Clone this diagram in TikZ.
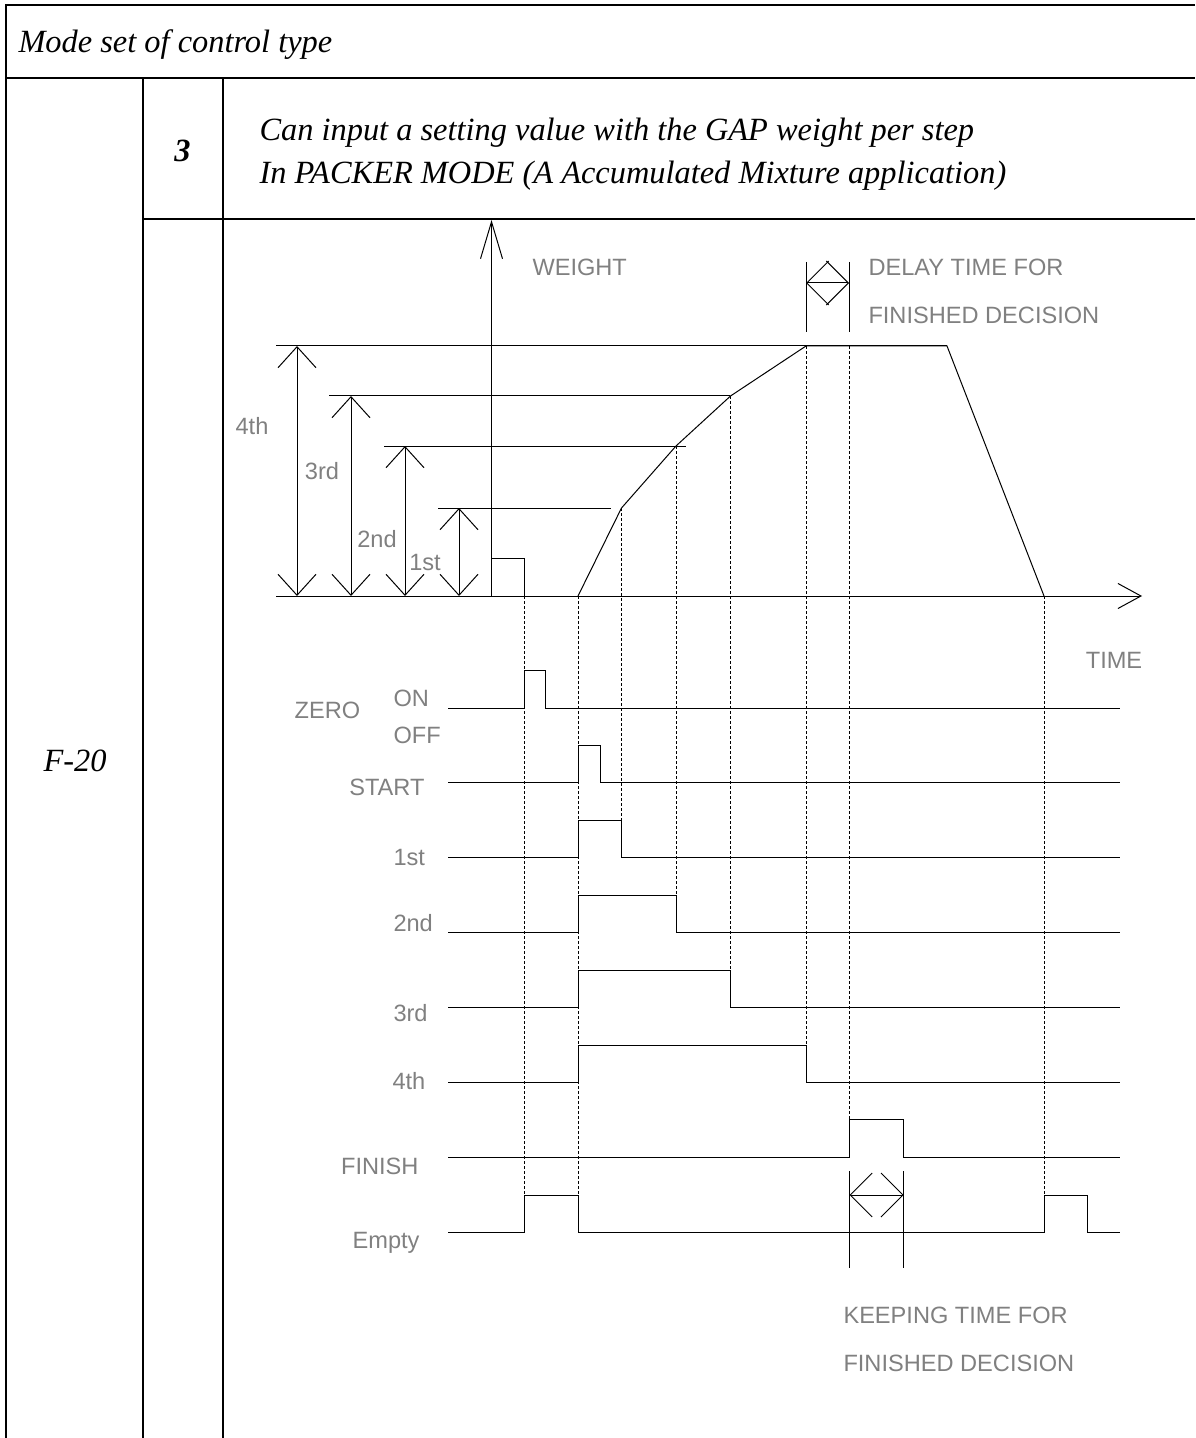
\documentclass[tikz,border=0pt]{standalone}
\usepackage{fontspec}
\setmainfont{Liberation Serif}
\setsansfont{Liberation Sans}
\usetikzlibrary{arrows.meta}
\definecolor{lgrey}{HTML}{808080}
\tikzset{
  every picture/.style={line width=0.5pt},
  frame/.style={line width=1pt},
  head/.style={font=\fontsize{16.2pt}{19pt}\selectfont\itshape, inner sep=0pt},
  lbl/.style={font=\sffamily\fontsize{11.8pt}{14pt}\selectfont, text=lgrey, inner sep=0pt},
  guide/.style={dash pattern=on 1.5pt off 1pt, line width=0.4pt},
  dim/.style={{Straight Barb[length=10.5pt, width=19pt]}-{Straight Barb[length=10.5pt, width=19pt]}},
  span/.style={{Straight Barb[length=11pt, width=22pt]}-{Straight Barb[length=11pt, width=22pt]}},
}
\begin{document}
\begin{tikzpicture}[x=0.5pt, y=-0.5pt]
  \useasboundingbox (0,0) rectangle (1195,1438);
  % table
  \draw[frame] (6,1438) -- (6,5) -- (1195,5);
  \draw[frame] (6,78) -- (1195,78);
  \draw[frame] (143,219) -- (1195,219);
  \foreach \cx in {143,223} \draw[frame] (\cx,78) -- (\cx,1438);
  \node[head, anchor=base west] (title) at (18,53) {Mode set of control type};
  \node[head, anchor=base, font=\fontsize{16.2pt}{19pt}\selectfont\bfseries\itshape] (modeno) at (182.5,162) {3};
  \node[head, anchor=base west] (desc1) at (259,141) {Can input a setting value with the GAP weight per step};
  \node[head, anchor=base west] (desc2) at (259,184) {In PACKER MODE (A Accumulated Mixture application)};
  \node[head, anchor=base west] (fcode) at (43,771) {F-20};
  % weight and time axes
  \draw[-{Straight Barb[length=18.5pt, width=11pt]}] (491.5,596) -- (491.5,220);
  \draw[-{Straight Barb[length=11.5pt, width=12.5pt]}] (276,596) -- (1142,596);
  \node[lbl, anchor=base west] (weight) at (532,276) {WEIGHT};
  \node[lbl, anchor=base] (time) at (1114,668) {TIME};
  % set levels with dimension arrows
  \foreach \lx/\ly/\rx in {276/346/947, 329/396/730, 384/446/686, 438/508/611}
    \draw (\lx,\ly) -- (\rx,\ly);
  \foreach \dx/\ly in {297/346, 351/396, 405/446, 459/508}
    \draw[dim] (\dx,596) -- (\dx,\ly);
  \node[lbl, anchor=base] (lv4) at (252,435) {4th};
  \node[lbl, anchor=base] (lv3) at (322,480) {3rd};
  \node[lbl, anchor=base] (lv2) at (377,547) {2nd};
  \node[lbl, anchor=base] (lv1) at (425,570) {1st};
  % weight curve
  \draw (491.5,558) -- (524.7,558) -- (524.7,596);
  \draw (578,596) -- (621.5,508) -- (676,446) -- (730.5,396) -- (806,346) -- (947,346) -- (1044,596);
  % delay time
  \foreach \tx in {806,849} \draw (\tx,262) -- (\tx,332);
  \draw[span] (806,283) -- (849,283);
  \node[lbl, anchor=base west] (delay1) at (868,276) {DELAY TIME FOR};
  \node[lbl, anchor=base west] (delay2) at (868,324) {FINISHED DECISION};
  % guides
  \foreach \gx/\gt/\gb in {524.7/596/1195, 578/596/1195, 621.5/508/820, 676/446/895, 730.5/396/970.5, 806/346/1045, 849.5/346/1120, 1044/596/1195}
    \draw[guide] (\gx,\gt) -- (\gx,\gb);
  % signals
  \foreach \i/\on/\off in {0/524.7/545.7, 1/578/600.3, 2/578/621.5, 3/578/676, 4/578/730.5, 5/578/806, 6/849.5/903.7} {
    \pgfmathsetmacro\lo{708+74.9*\i}
    \pgfmathsetmacro\hi{\lo-37.5}
    \draw (448,\lo) -- (\on,\lo) -- (\on,\hi) -- (\off,\hi) -- (\off,\lo) -- (1120,\lo);
  }
  \draw (448,1232) -- (524.7,1232) -- (524.7,1195) -- (578,1195) -- (578,1232) -- (1044,1232)
    -- (1044,1195) -- (1087.6,1195) -- (1087.6,1232) -- (1120,1232);
  \node[lbl, anchor=base] (zero) at (327.5,718) {ZERO};
  \node[lbl, anchor=base west] (on) at (393,706) {ON};
  \node[lbl, anchor=base west] (off) at (393,743) {OFF};
  \node[lbl, anchor=base east] (start) at (425,795) {START};
  \node[lbl, anchor=base west] (st1) at (393,865) {1st};
  \node[lbl, anchor=base west] (st2) at (393,931) {2nd};
  \node[lbl, anchor=base west] (st3) at (393,1021) {3rd};
  \node[lbl, anchor=base west] (st4) at (392,1089) {4th};
  \node[lbl, anchor=base east] (finish) at (419,1174) {FINISH};
  \node[lbl, anchor=base east] (empty) at (420,1248) {Empty};
  % keeping time
  \foreach \tx in {849.5,903.7} \draw (\tx,1171) -- (\tx,1268);
  \draw[span] (849.5,1195) -- (903.7,1195);
  \node[lbl, anchor=base west] (keep1) at (843,1323) {KEEPING TIME FOR};
  \node[lbl, anchor=base west] (keep2) at (843,1371) {FINISHED DECISION};
\end{tikzpicture}
\end{document}
